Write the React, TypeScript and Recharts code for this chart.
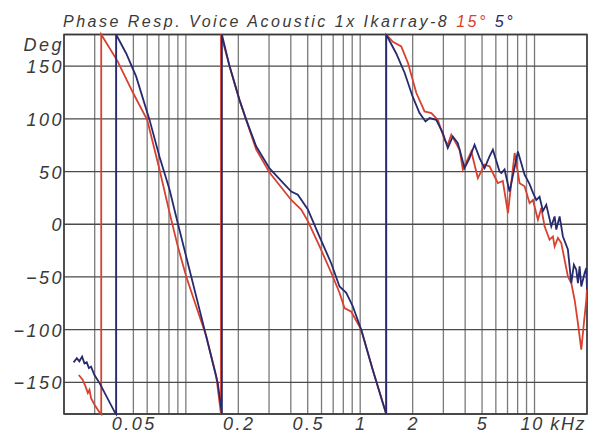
import React from "react";
import {
  LineChart,
  Line,
  XAxis,
  YAxis,
  CartesianGrid,
  ReferenceArea,
} from "recharts";

// ---------- data (frequency in kHz, phase in degrees) ----------
const redFreq = [
  0.0243, 0.0256, 0.0266, 0.0274, 0.028, 0.0286, 0.0299, 0.0317, 0.0327,
  0.0327, 0.0405, 0.05, 0.06, 0.0706, 0.0806, 0.0899, 0.1005, 0.1147, 0.1309, 0.1494, 0.159,
  0.159, 0.178, 0.203, 0.222, 0.253, 0.302, 0.402, 0.459, 0.501, 0.585, 0.682, 0.761, 0.813, 0.889, 1.014, 1.18, 1.41,
  1.41, 1.54, 1.72, 1.88, 2.1, 2.34, 2.56, 2.79, 3.05, 3.18, 3.33, 3.72, 3.88, 4.34, 4.73, 5.17, 5.52,
  6.16, 6.58, 7.04, 7.69, 8.21, 8.77, 9.37, 9.79, 10.46, 10.94, 11.42, 12.2, 12.75, 13.04, 13.62,
  14.24, 15.54, 16.25, 16.98, 17.74, 18.55, 19.2, 19.82, 20,
];
const redPhase = [
  -143, -147.5, -154, -160, -157, -165, -171, -177.6, -180,
  180, 155, 124, 99, 52, 11, -21, -49.5, -78, -106, -144, -180,
  180, 150, 118, 99, 71, 49, 23, 14, 3, -21, -46, -65, -79.5, -83, -100, -138, -180,
  180, 173, 168.7, 153, 124.5, 107, 105.5, 99, 80, 75.4, 85, 70.7, 51.7, 69, 43.8, 56.5, 55,
  39, 41, 10.6, 67.6, 39, 36, 20, 23, 4.3, 15.4, -2, -14.7, -11.6, -21, -13,
  -17.8, -49.5, -55.8, -71.6, -93.7, -119, -93.7, -71.6, -60,
];

const blueFreq = [
  0.0227, 0.0237, 0.0245, 0.0254, 0.0262, 0.027, 0.0278, 0.0286, 0.0299, 0.032, 0.039, 0.0398,
  0.0398, 0.0455, 0.0519, 0.0619, 0.0706, 0.0806, 0.0899, 0.1027, 0.1198, 0.1367, 0.1526, 0.161,
  0.161, 0.178, 0.203, 0.222, 0.253, 0.302, 0.402, 0.439, 0.501, 0.585, 0.682, 0.761, 0.832, 0.908, 1.014, 1.18, 1.41,
  1.41, 1.61, 1.8, 2.0, 2.19, 2.37, 2.5, 2.73, 2.98, 3.18, 3.4, 3.63, 3.97, 4.24, 4.53, 4.84, 5.17, 5.52,
  5.77, 6.3, 6.45, 6.73, 7.19, 8.03, 8.77, 9.37, 9.79, 10.24, 10.69, 11.17, 11.68, 12.48, 13.04, 13.33,
  13.93, 14.55, 15.54, 16.25, 16.82, 17.36, 17.74, 18.14, 18.55, 19.38, 19.82, 20,
];
const bluePhase = [
  -131, -127, -130, -125.5, -132, -131, -136.5, -135, -143, -150.7, -178, -180,
  180, 162, 140, 99, 64, 33, 1, -37, -81, -119, -151, -180,
  180, 150, 118, 99, 74, 53, 31, 28, 14, -12, -37, -59, -65, -78, -100, -138, -180,
  180, 162, 143.5, 121, 105.5, 97.5, 100.7, 99, 86.5, 72.3, 83.3, 77, 53.3, 62.8, 75.4, 62.8, 53.3, 64.3,
  70.7, 50, 48.6, 52, 31, 69, 47, 38, 30, 23, 26, 12.5, 18.5, -2, 7.4, -5,
  7.4, -11.6, -24, -55.8, -38.4, -43.2, -55.8, -40, -59, -46.3, -41.6, -62,
];

const gridFreqs = [
  0.02, 0.03, 0.04, 0.05, 0.06, 0.07, 0.08, 0.09,
  0.1, 0.2, 0.3, 0.4, 0.5, 0.6, 0.7, 0.8, 0.9,
  1, 2, 3, 4, 5, 6, 7, 8, 9, 10, 20,
];
const xLabelValues = [0.05, 0.2, 0.5, 1, 2, 5, 10];
const xLabelTexts = ["0.05", "0.2", "0.5", "1", "2", "5", "10 kHz"];
const yTicks = [-180, -150, -100, -50, 0, 50, 100, 150, 180];

const titleMain = "Phase Resp. Voice Acoustic 1x Ikarray-8";
const titleRed = "15°";
const titleBlue = "5°";

const RED = "#d8412f";
const NAVY = "#272a6e";
const TEXT = "#3a3a3a";
const FONT = "'Liberation Sans', Arial, sans-serif";

const redData = redFreq.map((f, i) => ({ f, v: redPhase[i] }));
const blueData = blueFreq.map((f, i) => ({ f, v: bluePhase[i] }));

const labelStyle = {
  fontFamily: FONT,
  fontStyle: "italic" as const,
  fontSize: 18,
  letterSpacing: 2.5,
  fill: TEXT,
};

const XTick = (props: any) => {
  const { x, y, payload } = props;
  const idx = xLabelValues.findIndex((v) => Math.abs(v - payload.value) < 1e-9);
  if (idx < 0) return <g />;
  const txt = xLabelTexts[idx];
  if (txt.indexOf("kHz") >= 0) {
    return (
      <text
        x={x - 14}
        y={y + 16}
        textAnchor="start"
        style={{ ...labelStyle, letterSpacing: 1.6 }}
      >
        {txt}
      </text>
    );
  }
  return (
    <text x={x + 1} y={y + 16} textAnchor="middle" style={labelStyle}>
      {txt}
    </text>
  );
};

const YTick = (props: any) => {
  const { x, y, payload } = props;
  const v = payload.value;
  if (v === -180) return <g />;
  if (v === 180) {
    return (
      <text x={x} y={y + 16} textAnchor="end" style={labelStyle}>
        Deg
      </text>
    );
  }
  const s = v < 0 ? "\u2212" + Math.abs(v) : String(v);
  return (
    <text x={x} y={y + 7} textAnchor="end" style={labelStyle}>
      {s}
    </text>
  );
};

export default function App() {
  return (
    <div style={{ position: "absolute", left: 0, top: 0, width: 591, height: 435, background: "#fff" }}>
      <div
        style={{
          position: "absolute",
          left: 63,
          top: 14,
          fontFamily: FONT,
          fontStyle: "italic",
          fontSize: 16,
          lineHeight: "16px",
          letterSpacing: 2.5,
          color: TEXT,
          whiteSpace: "nowrap",
        }}
      >
        {titleMain} <span style={{ color: RED }}>{titleRed}</span>{" "}
        <span style={{ color: NAVY }}>{titleBlue}</span>
      </div>
      <LineChart
        width={591}
        height={435}
        margin={{ top: 34.5, right: 4, bottom: 0, left: 4 }}
      >
        <CartesianGrid
          horizontal={false}
          vertical={true}
          stroke="#7a7a7a"
          strokeWidth={1.3}
        />
        <CartesianGrid
          horizontal={true}
          vertical={false}
          stroke="#4a4a4a"
          strokeWidth={1.3}
        />
        <XAxis
          dataKey="f"
          type="number"
          scale="log"
          domain={[0.02, 20]}
          allowDataOverflow
          ticks={gridFreqs}
          interval={0}
          height={21}
          axisLine={false}
          tickLine={false}
          tickSize={0}
          tickMargin={0}
          tick={<XTick />}
        />
        <YAxis
          type="number"
          domain={[-180, 180]}
          ticks={yTicks}
          interval={0}
          width={60}
          axisLine={false}
          tickLine={false}
          tickSize={0}
          tickMargin={0}
          tick={<YTick />}
        />
        <ReferenceArea
          x1={0.02}
          x2={20}
          y1={-180}
          y2={180}
          fill="none"
          fillOpacity={0}
          stroke="#3a3a3a"
          strokeWidth={1.6}
          ifOverflow="visible"
        />
        <Line
          data={redData}
          dataKey="v"
          type="linear"
          stroke={RED}
          strokeWidth={1.8}
          dot={false}
          activeDot={false}
          isAnimationActive={false}
        />
        <Line
          data={blueData}
          dataKey="v"
          type="linear"
          stroke={NAVY}
          strokeWidth={1.8}
          dot={false}
          activeDot={false}
          isAnimationActive={false}
        />
      </LineChart>
    </div>
  );
}
